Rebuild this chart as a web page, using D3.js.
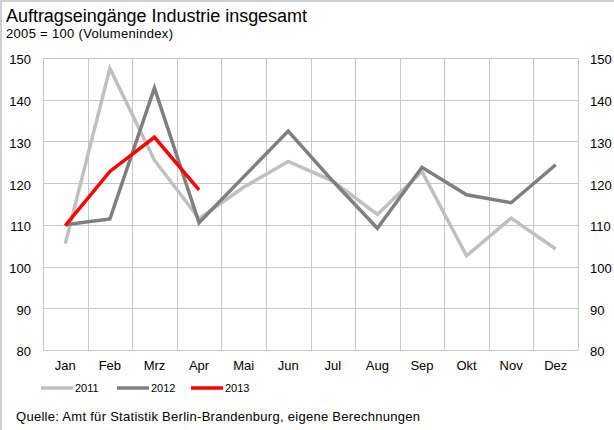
<!DOCTYPE html>
<html>
<head>
<meta charset="utf-8">
<script src="https://cdn.jsdelivr.net/npm/d3@7"></script>
<style>
  body { margin: 0; background: #fff; }
  svg { display: block; font-family: "Liberation Sans", Arial, sans-serif; }
</style>
</head>
<body>
<div id="chart"></div>
<script>
  const months = ["Jan","Feb","Mrz","Apr","Mai","Jun","Jul","Aug","Sep","Okt","Nov","Dez"]
  const yTicks = [80, 90, 100, 110, 120, 130, 140, 150]
  const years = ["2011", "2012", "2013"]
  const v2011 = [105.5, 147.5, 125.5, 111.5, 119, 125.2, 120.5, 112.5, 122.8, 102.6, 111.6, 104.2]
  const v2012 = [110, 111.4, 142.8, 110.5, 121.5, 132.5, 120.5, 109.2, 123.8, 117.2, 115.3, 124.4]
  const v2013 = [109.8, 122.8, 131, 118.4]

  const width = 614
  const height = 430
  const margin = { top: 58, bottom: 80, left: 43, right: 36 }

  const series = [
    { name: years[0], values: v2011, color: "#c0c0c0", w: 3.5 },
    { name: years[1], values: v2012, color: "#7f7f7f", w: 3.5 },
    { name: years[2], values: v2013, color: "#ff0000", w: 3.5 }
  ]

  const svg = d3.select("#chart")
    .append("svg")
    .attr("width", width)
    .attr("height", height)

  // frame (top + left only)
  svg.append("path")
    .attr("d", `M1,${height} L1,1 L${width},1`)
    .attr("fill", "none")
    .attr("stroke", "#d0d0d0")
    .attr("stroke-width", 2)

  const x = d3.scaleBand()
    .domain(months)
    .range([margin.left, width - margin.right])

  const y = d3.scaleLinear()
    .domain([80, 150])
    .range([height - margin.bottom, margin.top])

  // grid
  const grid = svg.append("g").attr("stroke", "#c8c8c8").attr("stroke-width", 1)
  grid.selectAll("line.h")
    .data(yTicks)
    .join("line")
      .attr("class", "h")
      .attr("x1", margin.left)
      .attr("x2", width - margin.right)
      .attr("y1", d => Math.round(y(d)) + 0.5)
      .attr("y2", d => Math.round(y(d)) + 0.5)
  grid.selectAll("line.v")
    .data(months.concat(["end"]))
    .join("line")
      .attr("class", "v")
      .attr("x1", d => Math.round(d === "end" ? x.range()[1] : x(d)) + 0.5)
      .attr("x2", d => Math.round(d === "end" ? x.range()[1] : x(d)) + 0.5)
      .attr("y1", y(150))
      .attr("y2", y(80))

  function yLeft(g) {
    g.attr("transform", `translate(${margin.left - 12},0)`)
      .call(d3.axisLeft(y).tickValues(yTicks).tickSize(0).tickPadding(0))
      .attr("font-size", "13px")
      .attr("font-family", null)
    g.select(".domain").remove()
    g.selectAll("text").attr("fill", "#000").attr("dy", "0.45em")
  }
  function yRight(g) {
    g.attr("transform", `translate(${width - margin.right + 12},0)`)
      .call(d3.axisRight(y).tickValues(yTicks).tickSize(0).tickPadding(0))
      .attr("font-size", "13px")
      .attr("font-family", null)
    g.select(".domain").remove()
    g.selectAll("text").attr("fill", "#000").attr("dy", "0.45em")
  }
  function xAxis(g) {
    g.attr("transform", `translate(0,${height - margin.bottom})`)
      .call(d3.axisBottom(x).tickSize(0).tickPadding(10))
      .attr("font-size", "13px")
      .attr("font-family", null)
    g.select(".domain").remove()
    g.selectAll("text").attr("fill", "#000").attr("dy", "0.75em")
  }
  svg.append("g").call(yLeft)
  svg.append("g").call(yRight)
  svg.append("g").call(xAxis)

  const line = d3.line()
    .x((d, i) => x(months[i]) + x.bandwidth() / 2)
    .y(d => y(d))

  svg.append("g")
    .selectAll("path")
    .data(series)
    .join("path")
      .attr("d", d => line(d.values))
      .attr("fill", "none")
      .attr("stroke", d => d.color)
      .attr("stroke-width", d => d.w)

  // legend
  const legX = [41, 117, 191]
  const leg = svg.append("g")
    .selectAll("g")
    .data(series)
    .join("g")
      .attr("transform", (d, i) => `translate(${legX[i]},388)`)
  leg.append("line")
    .attr("x1", 0).attr("x2", 32)
    .attr("stroke", d => d.color)
    .attr("stroke-width", 3.5)
  leg.append("text")
    .attr("x", 34)
    .attr("dy", "0.38em")
    .attr("font-size", "11px")
    .text(d => d.name)

  svg.append("text")
    .attr("x", 6).attr("y", 22)
    .attr("font-size", "18px")
    .attr("textLength", 301)
    .attr("lengthAdjust", "spacing")
    .text("Auftragseingänge Industrie insgesamt")
  svg.append("text")
    .attr("x", 6).attr("y", 38)
    .attr("font-size", "13px")
    .attr("textLength", 167)
    .attr("lengthAdjust", "spacing")
    .text("2005 = 100 (Volumenindex)")
  svg.append("text")
    .attr("x", 16).attr("y", 421)
    .attr("font-size", "13px")
    .attr("textLength", 404)
    .attr("lengthAdjust", "spacing")
    .text("Quelle: Amt für Statistik Berlin-Brandenburg, eigene Berechnungen")
</script>
</body>
</html>
